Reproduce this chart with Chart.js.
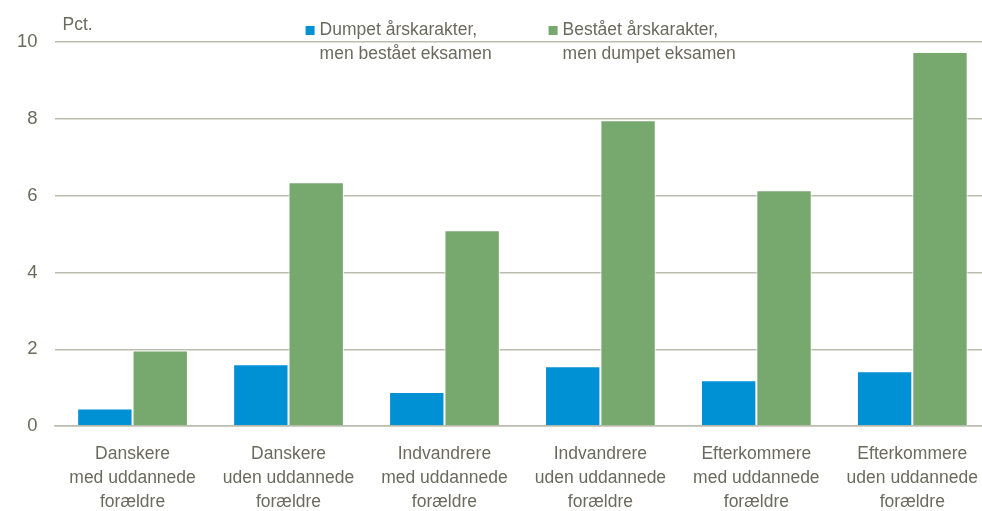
<!DOCTYPE html>
<html>
<head>
<meta charset="utf-8">
<script src="https://cdn.jsdelivr.net/npm/chart.js@4.4.1/dist/chart.umd.min.js"></script>
<style>
  html, body { margin: 0; padding: 0; background: #fff; overflow: hidden; }
  #clip { width: 982px; height: 511px; overflow: hidden; }
  #wrap { width: 994px; height: 511px; position: relative; }
</style>
</head>
<body>
<div id="clip"><div id="wrap"><canvas id="chart"></canvas></div></div>
<script>
        // Data
        const categories = [
            ['Danskere', 'med uddannede', 'forældre'],
            ['Danskere', 'uden uddannede', 'forældre'],
            ['Indvandrere', 'med uddannede', 'forældre'],
            ['Indvandrere', 'uden uddannede', 'forældre'],
            ['Efterkommere', 'med uddannede', 'forældre'],
            ['Efterkommere', 'uden uddannede', 'forældre']
        ];
        const dumpetAar = [0.46, 1.61, 0.89, 1.56, 1.19, 1.43];
        const bestaaetAar = [1.97, 6.35, 5.10, 7.96, 6.14, 9.74];
        const seriesLabels = [
            ['Dumpet årskarakter,', 'men bestået eksamen'],
            ['Bestået årskarakter,', 'men dumpet eksamen']
        ];
        const yTicks = [0, 2, 4, 6, 8, 10];
        const unitLabel = 'Pct.';

        const textColor = '#6b6a5e';
        const gridColor = '#bcbcae';
        const fontFamily = '"Liberation Sans", Arial, sans-serif';

        // Legend + unit label drawn on top
        const overlay = {
            id: 'overlay',
            afterDraw(chart) {
                const ctx = chart.ctx;
                const area = chart.chartArea;
                ctx.save();
                ctx.font = '17.5px ' + fontFamily;
                ctx.fillStyle = textColor;
                ctx.textBaseline = 'alphabetic';
                ctx.fillText(unitLabel, area.left + 8, 30);

                const items = [
                    { x: area.left + 251, color: chart.data.datasets[0].backgroundColor, lines: seriesLabels[0] },
                    { x: area.left + 494, color: chart.data.datasets[1].backgroundColor, lines: seriesLabels[1] }
                ];
                items.forEach(it => {
                    ctx.fillStyle = it.color;
                    ctx.fillRect(it.x, 26, 9, 9);
                    ctx.fillStyle = textColor;
                    it.lines.forEach((l, i) => ctx.fillText(l, it.x + 14, 35 + i * 24));
                });
                ctx.restore();
            }
        };

        const ctx = document.getElementById('chart').getContext('2d');
        new Chart(ctx, {
            type: 'bar',
            data: {
                labels: categories,
                datasets: [{
                    label: seriesLabels[0].join(' '),
                    data: dumpetAar,
                    backgroundColor: '#0090d4',
                    borderColor: '#ffffff',
                    borderWidth: 1,
                    borderSkipped: 'bottom'
                }, {
                    label: seriesLabels[1].join(' '),
                    data: bestaaetAar,
                    backgroundColor: '#77a96f',
                    borderColor: '#ffffff',
                    borderWidth: 1,
                    borderSkipped: 'bottom'
                }]
            },
            options: {
                responsive: true,
                maintainAspectRatio: false,
                animation: false,
                layout: { padding: { left: 0, right: -6, top: 42, bottom: -19 } },
                plugins: { legend: { display: false }, tooltip: { enabled: false } },
                datasets: { bar: { categoryPercentage: 0.71, barPercentage: 1 } },
                scales: {
                    x: {
                        grid: { display: false, drawTicks: false },
                        border: { display: true, color: gridColor, width: 1.5 },
                        ticks: {
                            color: textColor,
                            padding: 16,
                            maxRotation: 0,
                            autoSkip: false,
                            font: { family: fontFamily, size: 17.5, lineHeight: 1.37 }
                        }
                    },
                    y: {
                        min: 0,
                        max: 10,
                        afterBuildTicks: axis => { axis.ticks = yTicks.map(v => ({ value: v })); },
                        grid: { color: gridColor, lineWidth: 1.5, drawTicks: false },
                        border: { display: false },
                        ticks: {
                            color: textColor,
                            padding: 17,
                            font: { family: fontFamily, size: 18.5 }
                        }
                    }
                }
            },
            plugins: [overlay]
        });
</script>
</body>
</html>
